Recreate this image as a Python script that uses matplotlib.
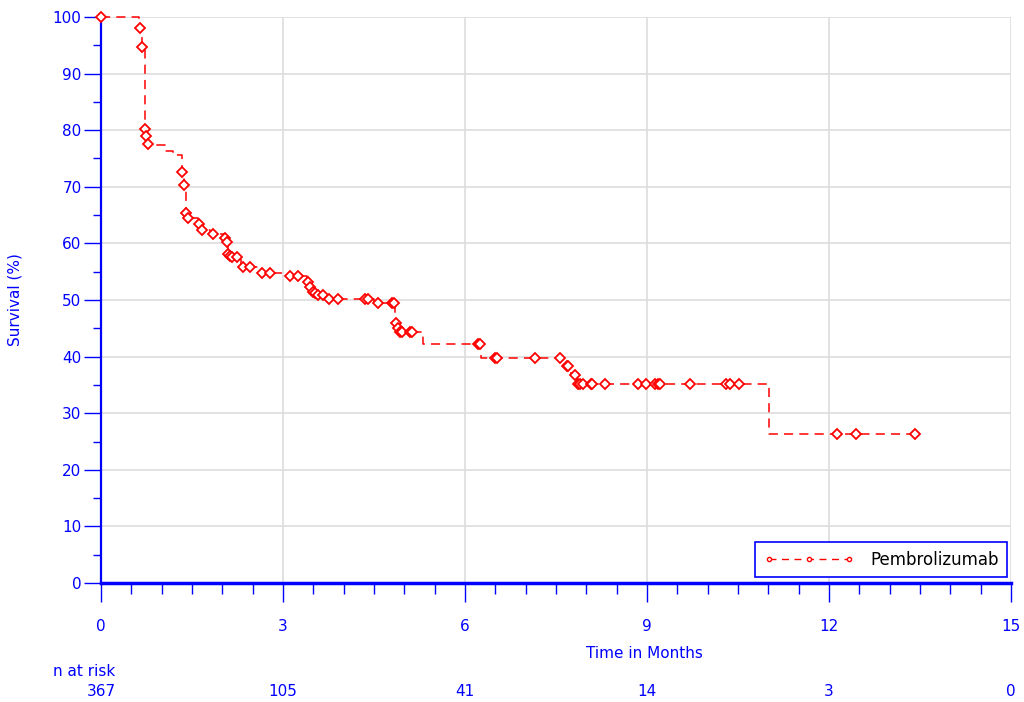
import numpy as np
import matplotlib
matplotlib.use('Agg')
import matplotlib.pyplot as plt
from matplotlib.lines import Line2D
from matplotlib.ticker import MultipleLocator

# Kaplan-Meier step function (time in months, survival % after the step)
step_t = [0, 0.63, 0.67, 0.72, 0.74, 0.77, 1.05, 1.18, 1.34, 1.37, 1.40, 1.44,
          1.60, 1.65, 1.80, 2.02, 2.06, 2.10, 2.14, 2.30, 2.60, 3.00, 3.40,
          3.44, 3.48, 3.55, 3.72, 4.50, 4.84, 4.88, 4.91, 5.30, 6.27, 7.62,
          7.75, 7.83, 11.01, 13.42]
step_s = [100, 98.0, 94.7, 80.2, 79.0, 77.3, 76.4, 75.6, 72.7, 70.3, 65.4, 64.4,
          63.5, 62.3, 61.7, 61.0, 60.3, 58.1, 57.6, 55.8, 54.8, 54.3, 53.2,
          52.3, 51.5, 50.9, 50.1, 49.4, 46.0, 45.0, 44.4, 42.2, 39.7, 38.3,
          36.7, 35.2, 26.3, 26.3]

# censored observations
cens_t = [0, 0.64, 0.68, 0.73, 0.75, 0.78, 1.34, 1.37, 1.40, 1.44, 1.62, 1.66,
          1.85, 2.04, 2.07, 2.10, 2.13, 2.16, 2.24, 2.34, 2.46, 2.66, 2.79,
          3.12, 3.25, 3.42, 3.45, 3.49, 3.52, 3.58, 3.66, 3.76, 3.91, 4.36,
          4.40, 4.57, 4.80, 4.83, 4.87, 4.90, 4.93, 4.97, 5.10, 5.12, 6.21,
          6.24, 6.49, 6.52, 7.15, 7.57, 7.68, 7.70, 7.81, 7.87, 7.90, 7.95,
          8.07, 8.10, 8.31, 8.86, 8.99, 9.13, 9.18, 9.22, 9.71, 10.30, 10.37,
          10.52, 12.13, 12.45, 13.42]
cens_s = [100, 98.0, 94.7, 80.2, 79.0, 77.6, 72.7, 70.3, 65.4, 64.4, 63.4, 62.3,
          61.7, 61.0, 60.3, 58.1, 57.8, 57.6, 57.6, 55.8, 55.8, 54.8, 54.8,
          54.3, 54.3, 53.2, 52.3, 51.5, 51.3, 50.9, 50.9, 50.1, 50.1, 50.1,
          50.1, 49.4, 49.4, 49.4, 46.0, 45.0, 44.4, 44.4, 44.4, 44.4, 42.2,
          42.2, 39.7, 39.7, 39.7, 39.7, 38.3, 38.3, 36.7, 35.2, 35.2, 35.2,
          35.2, 35.2, 35.2, 35.2, 35.2, 35.2, 35.2, 35.2, 35.2, 35.2, 35.2,
          35.2, 26.3, 26.3, 26.3]

risk_t = [0, 3, 6, 9, 12, 15]
risk_n = [367, 105, 41, 14, 3, 0]

blue = '#0000ff'
red = '#ff0000'

fig = plt.figure(figsize=(10.24, 7.02), dpi=100)
ax = fig.add_axes([0.0986, 0.1695, 0.8887, 0.8063])

ax.step(step_t, step_s, where='post', color=red, lw=1.1, ls=(0, (6, 4)),
        clip_on=False)
ax.plot(cens_t, cens_s, ls='none', marker='D', ms=5.5, mfc='white', mec=red,
        mew=1.3, clip_on=False, zorder=3)

ax.set_xlim(0, 15)
ax.set_ylim(0, 100)
ax.xaxis.set_major_locator(MultipleLocator(3))
ax.xaxis.set_minor_locator(MultipleLocator(0.5))
ax.yaxis.set_major_locator(MultipleLocator(10))
ax.yaxis.set_minor_locator(MultipleLocator(5))
ax.grid(True, which='major', color='#dddddd', lw=1.2)
ax.set_axisbelow(True)

for s in ['top', 'right']:
    ax.spines[s].set_visible(False)
ax.spines['left'].set_color(blue)
ax.spines['left'].set_linewidth(1.6)
ax.spines['bottom'].set_color(blue)
ax.spines['bottom'].set_linewidth(2.5)

ax.tick_params(axis='x', which='major', length=14, width=1.0, color=blue,
               labelcolor=blue, labelsize=11, pad=12)
ax.tick_params(axis='x', which='minor', length=8, width=1.0, color=blue)
ax.tick_params(axis='y', which='major', length=12, width=1.0, color=blue,
               labelcolor=blue, labelsize=11, pad=2)
ax.tick_params(axis='y', which='minor', length=6, width=1.0, color=blue)

ax.set_ylabel('Survival (%)', color=blue, fontsize=11, labelpad=22)
fig.text(644 / 1024, 1 - 653 / 702, 'Time in Months', color=blue, fontsize=11,
         ha='center', va='center')
fig.text(53 / 1024, 1 - 672 / 702, 'n at risk', color=blue, fontsize=11,
         ha='left', va='center')
for t, n in zip(risk_t, risk_n):
    x = ax.transData.transform((t, 0))[0] / fig.bbox.width
    fig.text(x, 1 - 692 / 702, str(n), color=blue, fontsize=11,
             ha='center', va='center')

handle = Line2D([], [], color=red, lw=1, ls=(0, (5, 4)), marker='o', ms=3,
                mfc='white', mec=red)
leg = ax.legend([handle], ['Pembrolizumab'], loc='lower right',
                bbox_to_anchor=(1007 / 1024, 1 - 577 / 702),
                bbox_transform=fig.transFigure, fancybox=False, framealpha=1,
                edgecolor=blue, fontsize=12, numpoints=3, handlelength=5.4,
                borderpad=0.5, handletextpad=1.0, borderaxespad=0)
leg.get_frame().set_linewidth(1.2)

fig.savefig('out.png', dpi=100)
